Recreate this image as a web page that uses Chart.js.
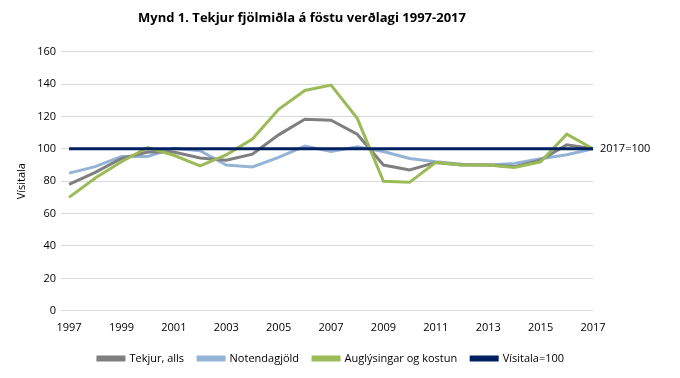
<!DOCTYPE html>
<html>
<head>
<meta charset="utf-8">
<script src="https://cdn.jsdelivr.net/npm/chart.js@4"></script>
<style>
  html, body { margin: 0; padding: 0; background: #fff; }
  #wrap { width: 680px; height: 378px; }
</style>
</head>
<body>
<div id="wrap"><canvas id="chart"></canvas></div>
<script>
// Data (index, 2017 = 100)
const years = ['1997','1998','1999','2000','2001','2002','2003','2004','2005','2006','2007',
               '2008','2009','2010','2011','2012','2013','2014','2015','2016','2017'];
const tekjur = [78, 85.5, 94, 98, 98, 94.3, 93, 96.7, 108.6, 118.2, 117.6,
                109, 90, 87, 91.6, 90, 90, 89, 93, 102.5, 100];
const notendagjold = [85, 89, 95.3, 95.3, 100.4, 98.8, 90, 88.8, 94.7, 101.7, 98.3,
                      101.2, 98.3, 94, 92, 90.5, 90, 91, 93.8, 96.3, 100];
const auglysingar = [70, 82, 92, 100.8, 96, 89.4, 96.3, 106, 124.4, 136, 139.3,
                     118.8, 80, 79.3, 91.6, 90, 90, 88.5, 92, 109, 100];
const visitala = years.map(() => 100);
const yTicks = { min: 0, max: 160, step: 20 };

const font = "'Open Sans', 'Noto Sans', sans-serif";

// "2017=100" label next to the right end of the index line
const endLabel = {
  id: 'endLabel',
  afterDatasetsDraw(chart) {
    const { ctx, scales } = chart;
    const x = scales.x.getPixelForValue(years.length - 1);
    const y = scales.y.getPixelForValue(100);
    ctx.save();
    ctx.font = '11px ' + font;
    ctx.fillStyle = '#000';
    ctx.textBaseline = 'middle';
    ctx.fillText('2017=100', x + 7, y);
    ctx.restore();
  }
};

function lineSet(label, data, color, order) {
  return {
    label, data,
    borderColor: color,
    backgroundColor: color,
    borderWidth: 3,
    pointRadius: 0,
    tension: 0,
    order
  };
}

new Chart(document.getElementById('chart'), {
  type: 'line',
  data: {
    labels: years,
    datasets: [
      lineSet('Tekjur, alls', tekjur, '#7f7f7f', 2),
      lineSet('Notendagjöld', notendagjold, '#95b3d7', 3),
      lineSet('Auglýsingar og kostun', auglysingar, '#9bbb59', 1),
      lineSet('Vísitala=100', visitala, '#002060', 0)
    ]
  },
  options: {
    responsive: true,
    maintainAspectRatio: false,
    animation: false,
    layout: { padding: { left: 11, right: 87, top: 4, bottom: 4 } },
    scales: {
      x: {
        offset: false,
        grid: { display: false },
        border: { display: false },
        afterFit: (scale) => { scale.height += 3; },
        ticks: {
          autoSkip: false,
          maxRotation: 0,
          padding: 2,
          color: '#000',
          font: { family: font, size: 11 },
          callback: (v, i) => (i % 2 === 0 ? years[i] : '')
        }
      },
      y: {
        min: yTicks.min,
        max: yTicks.max,
        grid: { color: '#d9d9d9', lineWidth: 1 },
        border: { display: false },
        ticks: { stepSize: yTicks.step, color: '#000', padding: 5, font: { family: font, size: 11 } },
        title: { display: true, text: 'Vísitala', color: '#000', font: { family: font, size: 11 } }
      }
    },
    plugins: {
      title: {
        display: true,
        text: 'Mynd 1. Tekjur fjölmiðla á föstu verðlagi 1997-2017',
        color: '#000',
        font: { family: font, size: 13, weight: 'bold' },
        padding: { top: 6, bottom: 26 }
      },
      legend: {
        position: 'bottom',
        fullSize: false,
        labels: {
          boxWidth: 26,
          boxHeight: 3,
          padding: 14,
          color: '#000',
          font: { family: font, size: 11 },
          sort: (a, b) => a.datasetIndex - b.datasetIndex
        }
      },
      tooltip: { enabled: false }
    }
  },
  plugins: [endLabel]
});
</script>
</body>
</html>
